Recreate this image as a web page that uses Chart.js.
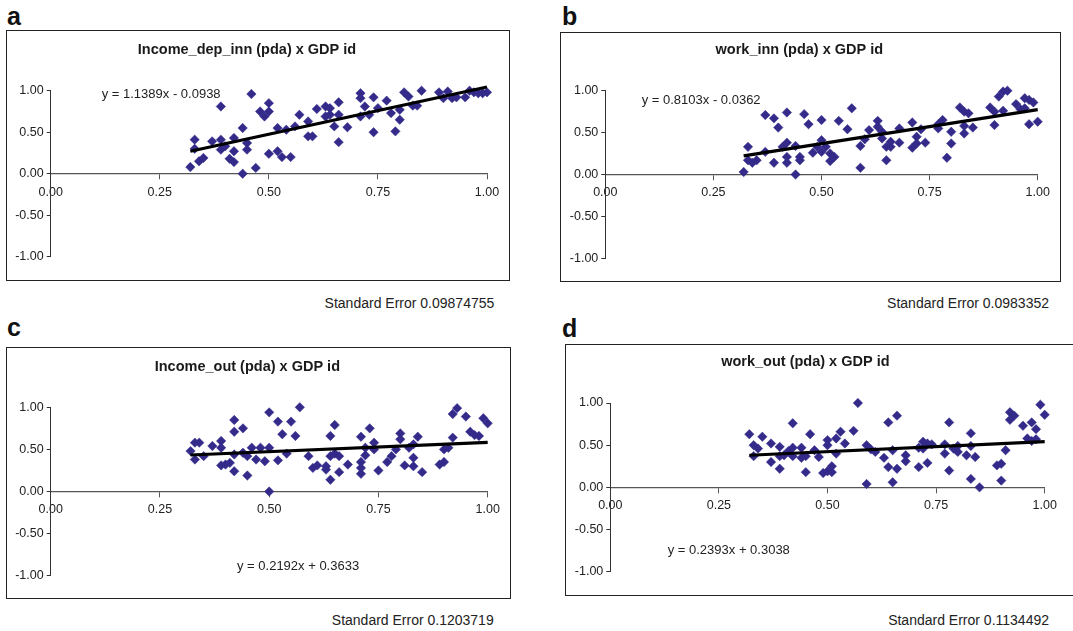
<!DOCTYPE html>
<html><head><meta charset="utf-8">
<script src="https://cdn.jsdelivr.net/npm/chart.js@4.4.1/dist/chart.umd.min.js"></script>
<style>
html,body{margin:0;padding:0;background:#fff;width:1073px;height:631px;overflow:hidden;position:relative;font-family:'Liberation Sans',Arial,sans-serif;color:#222}
.box{position:absolute;border:1px solid #222;box-sizing:border-box;overflow:hidden}
.box canvas{position:absolute;left:0;top:0}
.lbl{position:absolute;font-weight:bold;font-size:25px;line-height:25px;color:#111}
.se{position:absolute;font-size:14px;line-height:14px;width:260px;text-align:right;color:#222;white-space:nowrap}
</style></head><body>
<script>
// ---------- data (x = GDP id, y = indicator) ----------
const incomeDepInn = [[0.32,0.08],[0.33,0.41],[0.33,0.30],[0.34,0.15],[0.35,0.19],[0.37,0.39],[0.39,0.81],[0.39,0.41],[0.39,0.29],[0.40,0.33],[0.41,0.18],[0.42,0.14],[0.42,0.43],[0.42,0.27],[0.44,0.55],[0.44,0.00],[0.45,0.37],[0.45,0.29],[0.46,0.96],[0.47,0.07],[0.48,0.75],[0.49,0.69],[0.50,0.85],[0.50,0.75],[0.50,0.24],[0.52,0.55],[0.52,0.27],[0.53,0.20],[0.54,0.53],[0.55,0.20],[0.56,0.57],[0.57,0.71],[0.59,0.63],[0.59,0.45],[0.60,0.45],[0.61,0.78],[0.63,0.81],[0.63,0.69],[0.64,0.79],[0.64,0.71],[0.65,0.57],[0.66,0.86],[0.66,0.71],[0.66,0.38],[0.68,0.56],[0.71,0.97],[0.71,0.91],[0.71,0.69],[0.72,0.81],[0.73,0.71],[0.74,0.92],[0.74,0.50],[0.75,0.79],[0.77,0.88],[0.78,0.73],[0.79,0.51],[0.80,0.77],[0.80,0.65],[0.81,0.98],[0.82,0.93],[0.83,0.82],[0.84,0.82],[0.85,1.00],[0.89,0.98],[0.90,0.91],[0.91,0.99],[0.92,0.91],[0.93,0.92],[0.95,0.92],[0.96,1.00],[0.97,0.98],[0.98,0.97],[0.99,0.97],[1.00,0.98]];
const workInn = [[0.32,0.03],[0.33,0.33],[0.33,0.17],[0.34,0.14],[0.35,0.17],[0.37,0.71],[0.37,0.27],[0.39,0.67],[0.39,0.14],[0.40,0.56],[0.41,0.33],[0.42,0.74],[0.42,0.38],[0.42,0.21],[0.42,0.14],[0.44,0.34],[0.44,0.00],[0.45,0.21],[0.45,0.17],[0.46,0.72],[0.47,0.60],[0.48,0.26],[0.49,0.33],[0.50,0.65],[0.50,0.41],[0.50,0.27],[0.51,0.33],[0.52,0.16],[0.52,0.25],[0.53,0.21],[0.54,0.64],[0.56,0.54],[0.57,0.79],[0.59,0.34],[0.59,0.08],[0.60,0.42],[0.61,0.53],[0.63,0.64],[0.63,0.57],[0.64,0.51],[0.64,0.43],[0.65,0.17],[0.65,0.33],[0.66,0.33],[0.66,0.39],[0.68,0.55],[0.68,0.38],[0.71,0.62],[0.71,0.32],[0.72,0.45],[0.72,0.37],[0.73,0.54],[0.74,0.38],[0.77,0.55],[0.77,0.60],[0.78,0.65],[0.79,0.20],[0.80,0.51],[0.80,0.37],[0.82,0.80],[0.83,0.75],[0.83,0.58],[0.83,0.49],[0.84,0.73],[0.85,0.56],[0.89,0.80],[0.90,0.75],[0.90,0.59],[0.91,0.93],[0.92,0.99],[0.92,0.76],[0.93,1.00],[0.95,0.84],[0.96,0.78],[0.97,0.91],[0.97,0.79],[0.98,0.89],[0.98,0.60],[0.99,0.86],[1.00,0.63]];
const incomeOut = [[0.32,0.48],[0.33,0.58],[0.33,0.38],[0.34,0.58],[0.35,0.42],[0.37,0.54],[0.39,0.60],[0.39,0.52],[0.39,0.31],[0.40,0.32],[0.41,0.34],[0.42,0.85],[0.42,0.71],[0.42,0.44],[0.42,0.24],[0.44,0.75],[0.44,0.46],[0.45,0.42],[0.45,0.19],[0.46,0.52],[0.47,0.38],[0.48,0.52],[0.49,0.36],[0.50,0.94],[0.50,0.52],[0.50,0.00],[0.52,0.83],[0.52,0.37],[0.53,0.68],[0.54,0.45],[0.55,0.83],[0.56,0.66],[0.57,1.00],[0.59,0.42],[0.60,0.28],[0.61,0.31],[0.63,0.30],[0.63,0.26],[0.64,0.66],[0.64,0.42],[0.64,0.14],[0.65,0.79],[0.65,0.45],[0.66,0.42],[0.66,0.23],[0.68,0.32],[0.71,0.65],[0.71,0.35],[0.71,0.28],[0.71,0.21],[0.72,0.43],[0.72,0.52],[0.73,0.75],[0.74,0.58],[0.74,0.50],[0.75,0.25],[0.77,0.35],[0.78,0.42],[0.79,0.50],[0.80,0.69],[0.80,0.62],[0.81,0.31],[0.82,0.52],[0.83,0.56],[0.83,0.40],[0.83,0.30],[0.84,0.65],[0.85,0.23],[0.89,0.32],[0.90,0.35],[0.90,0.50],[0.91,0.52],[0.92,0.92],[0.92,0.64],[0.93,0.99],[0.95,0.89],[0.96,0.71],[0.97,0.67],[0.98,0.66],[0.99,0.87],[1.00,0.81]];
const workOut = [[0.32,0.63],[0.33,0.50],[0.33,0.37],[0.34,0.46],[0.35,0.60],[0.37,0.52],[0.37,0.30],[0.39,0.48],[0.39,0.22],[0.39,0.37],[0.40,0.38],[0.41,0.43],[0.42,0.76],[0.42,0.47],[0.42,0.37],[0.44,0.47],[0.44,0.35],[0.45,0.18],[0.45,0.37],[0.46,0.63],[0.47,0.44],[0.48,0.36],[0.49,0.17],[0.50,0.56],[0.50,0.50],[0.50,0.19],[0.51,0.25],[0.51,0.18],[0.52,0.58],[0.52,0.40],[0.53,0.66],[0.54,0.52],[0.56,0.67],[0.57,1.00],[0.59,0.50],[0.59,0.04],[0.60,0.45],[0.61,0.42],[0.63,0.35],[0.64,0.77],[0.64,0.24],[0.65,0.44],[0.65,0.06],[0.66,0.85],[0.66,0.22],[0.68,0.38],[0.68,0.31],[0.71,0.24],[0.71,0.47],[0.72,0.54],[0.72,0.46],[0.73,0.52],[0.73,0.29],[0.74,0.51],[0.77,0.51],[0.77,0.40],[0.78,0.77],[0.78,0.20],[0.79,0.46],[0.80,0.49],[0.80,0.42],[0.82,0.38],[0.83,0.64],[0.83,0.49],[0.83,0.10],[0.84,0.36],[0.85,0.00],[0.89,0.26],[0.90,0.28],[0.90,0.08],[0.91,0.44],[0.92,0.89],[0.92,0.80],[0.93,0.85],[0.95,0.73],[0.96,0.58],[0.97,0.77],[0.97,0.55],[0.98,0.69],[0.98,0.57],[0.99,0.98],[1.00,0.86]];

const xTicks = [0, 0.25, 0.5, 0.75, 1];
const yTicks = [-1, -0.5, 0, 0.5, 1];
const titles = ['Income_dep_inn (pda) x GDP id','work_inn (pda) x GDP id','Income_out (pda) x GDP id','work_out (pda) x GDP id'];
const slopes = [1.1389, 0.8103, 0.2192, 0.2393];
const intercepts = [-0.0938, -0.0362, 0.3633, 0.3038];
const equations = ['y = 1.1389x - 0.0938','y = 0.8103x - 0.0362','y = 0.2192x + 0.3633','y = 0.2393x + 0.3038'];
const stdErrors = ['Standard Error 0.09874755','Standard Error 0.0983352','Standard Error 0.1203719','Standard Error 0.1134492'];
const letters = ['a','b','c','d'];
const seriesList = [incomeDepInn, workInn, incomeOut, workOut];

// ---------- layout ----------
const layoutCfg = [
  {box:[6,30,504,251],   cw:502, ch:249, yw:43.7, padR:22,   padB:23.3, tT:10.5, tB:31.8, eq:[94.7,63],   se:[494.3,303],   lb:[7,3.8]},
  {box:[560,32,501,250], cw:499, ch:248, yw:44.3, padR:22.3, padB:22.7, tT:8.5,  tB:31.8, eq:[80.7,67.7], se:[1049,303],    lb:[562,3.8]},
  {box:[6,347,505,252],  cw:503, ch:250, yw:43.7, padR:22.3, padB:22.3, tT:10.5, tB:31.4, eq:[230,218.7], se:[493.7,619.7], lb:[7,314.5]},
  {box:[565,344,520,252],cw:500, ch:250, yw:44.3, padR:21.3, padB:23.3, tT:8.5,  tB:32.1, eq:[101.7,205], se:[1049,619.7],  lb:[562,315.5]}
];

const FONT = "'Liberation Sans', Arial, sans-serif";
Chart.defaults.font.family = FONT;
Chart.defaults.color = '#222';

const eqPlugin = {
  id: 'eqLabel',
  afterDatasetsDraw(chart, args, opts) {
    const ctx = chart.ctx;
    ctx.save();
    ctx.font = '13px ' + FONT;
    ctx.fillStyle = '#222';
    ctx.textAlign = 'left';
    ctx.textBaseline = 'middle';
    ctx.fillText(opts.text, opts.x, opts.y);
    ctx.restore();
  }
};

seriesList.forEach((pts, i) => {
  const L = layoutCfg[i];
  const box = document.createElement('div');
  box.className = 'box';
  box.style.left = L.box[0] + 'px'; box.style.top = L.box[1] + 'px';
  box.style.width = L.box[2] + 'px'; box.style.height = L.box[3] + 'px';
  const cv = document.createElement('canvas');
  cv.width = L.cw; cv.height = L.ch;
  cv.style.width = L.cw + 'px'; cv.style.height = L.ch + 'px';
  box.appendChild(cv);
  document.body.appendChild(box);

  const lb = document.createElement('div');
  lb.className = 'lbl'; lb.textContent = letters[i];
  lb.style.left = L.lb[0] + 'px'; lb.style.top = L.lb[1] + 'px';
  document.body.appendChild(lb);

  const se = document.createElement('div');
  se.className = 'se'; se.textContent = stdErrors[i];
  se.style.left = (L.se[0] - 260) + 'px'; se.style.top = (L.se[1] - 6.85) + 'px';
  document.body.appendChild(se);

  const xs = pts.map(p => p[0]);
  const xMin = Math.min(...xs), xMax = Math.max(...xs);
  const trend = [xMin, xMax].map(x => ({x: x, y: slopes[i] * x + intercepts[i]}));

  new Chart(cv, {
    type: 'scatter',
    data: {
      datasets: [
        {data: trend, showLine: true, borderColor: '#000', borderWidth: 3.2, pointRadius: 0, fill: false, borderCapStyle: 'butt', clip: false},
        {data: pts.map(p => ({x: p[0], y: p[1]})), pointStyle: 'rectRot', pointRadius: 4.7, clip: false,
         backgroundColor: '#332a8a', borderColor: '#332a8a', borderWidth: 0.5}
      ]
    },
    plugins: [eqPlugin],
    options: {
      responsive: false, animation: false, devicePixelRatio: 1,
      layout: {padding: {left: 0, right: L.padR, top: 0, bottom: L.padB}},
      plugins: {
        legend: {display: false}, tooltip: {enabled: false},
        title: {display: true, text: titles[i], color: '#1a1a1a',
                font: {size: 14.5, weight: 'bold', family: FONT, lineHeight: 1.2},
                padding: {top: L.tT, bottom: L.tB}},
        eqLabel: {text: equations[i], x: L.eq[0], y: L.eq[1]}
      },
      scales: {
        x: {
          type: 'linear', position: {y: 0}, min: 0, max: 1,
          afterBuildTicks: s => { s.ticks = xTicks.map(v => ({value: v})); },
          ticks: {callback: v => Number(v).toFixed(2), font: {size: 12.5}, color: '#222', padding: 6, maxRotation: 0, autoSkip: false},
          grid: {drawOnChartArea: false, drawTicks: true, tickLength: 5, color: '#555', lineWidth: 1},
          border: {display: true, color: '#555', width: 1.3}
        },
        y: {
          type: 'linear', position: 'left', min: -1, max: 1,
          afterBuildTicks: s => { s.ticks = yTicks.map(v => ({value: v})); },
          afterFit: s => { s.width = L.yw; },
          ticks: {callback: v => Number(v).toFixed(2), font: {size: 12.5}, color: '#222', padding: 3, autoSkip: false},
          grid: {drawOnChartArea: false, drawTicks: true, tickLength: 4, color: '#333', lineWidth: 1},
          border: {display: true, color: '#333', width: 1}
        }
      }
    }
  });
});
</script>
</body></html>
